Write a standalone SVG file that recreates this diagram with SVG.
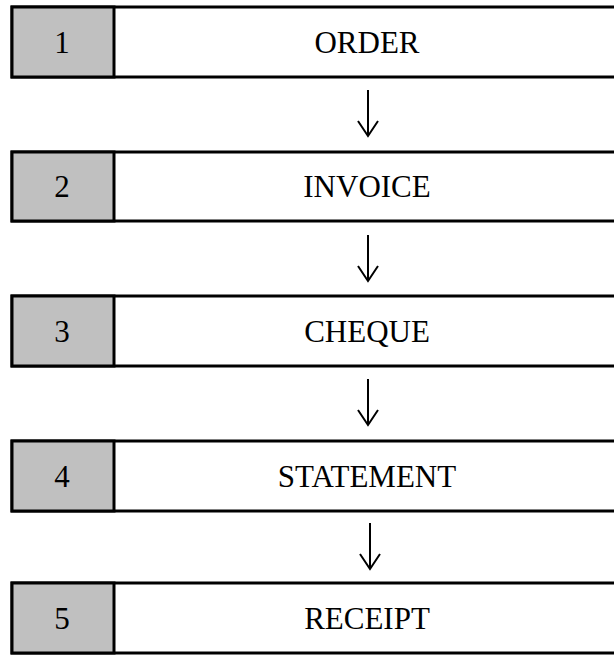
<svg xmlns="http://www.w3.org/2000/svg" width="614" height="658" viewBox="0 0 614 658">
<style>
.box{fill:#ffffff;stroke:#000;stroke-width:3}
.num{fill:#c0c0c0;stroke:#000;stroke-width:3}
.t{font-family:"Liberation Serif","Times New Roman",serif;font-size:31px;fill:#000;text-anchor:middle}
.arr{fill:none;stroke:#000;stroke-width:2}
</style>
<rect width="614" height="658" fill="#fff"/>
<g id="node1"><rect class="box" x="12" y="7" width="612" height="70"/><rect class="num" x="12" y="7" width="102" height="70"/><text class="t" x="62" y="53">1</text><text class="t" x="367" y="53">ORDER</text></g>
<g id="node2"><rect class="box" x="12" y="152" width="612" height="69"/><rect class="num" x="12" y="152" width="102" height="69"/><text class="t" x="62" y="197">2</text><text class="t" x="367" y="197">INVOICE</text></g>
<g id="node3"><rect class="box" x="12" y="296" width="612" height="70"/><rect class="num" x="12" y="296" width="102" height="70"/><text class="t" x="62" y="342">3</text><text class="t" x="367" y="342">CHEQUE</text></g>
<g id="node4"><rect class="box" x="12" y="441" width="612" height="70"/><rect class="num" x="12" y="441" width="102" height="70"/><text class="t" x="62" y="487">4</text><text class="t" x="367" y="487">STATEMENT</text></g>
<g id="node5"><rect class="box" x="12" y="583" width="612" height="70"/><rect class="num" x="12" y="583" width="102" height="70"/><text class="t" x="62" y="629">5</text><text class="t" x="367" y="629">RECEIPT</text></g>
<g id="connectors">
<path class="arr" d="M368 90V135M358 121L368 136L378 121"/>
<path class="arr" d="M368 235V280M358 266L368 281L378 266"/>
<path class="arr" d="M368 379V424M358 410L368 425L378 410"/>
<path class="arr" d="M370 523V568M360 554L370 569L380 554"/>
</g>
</svg>
